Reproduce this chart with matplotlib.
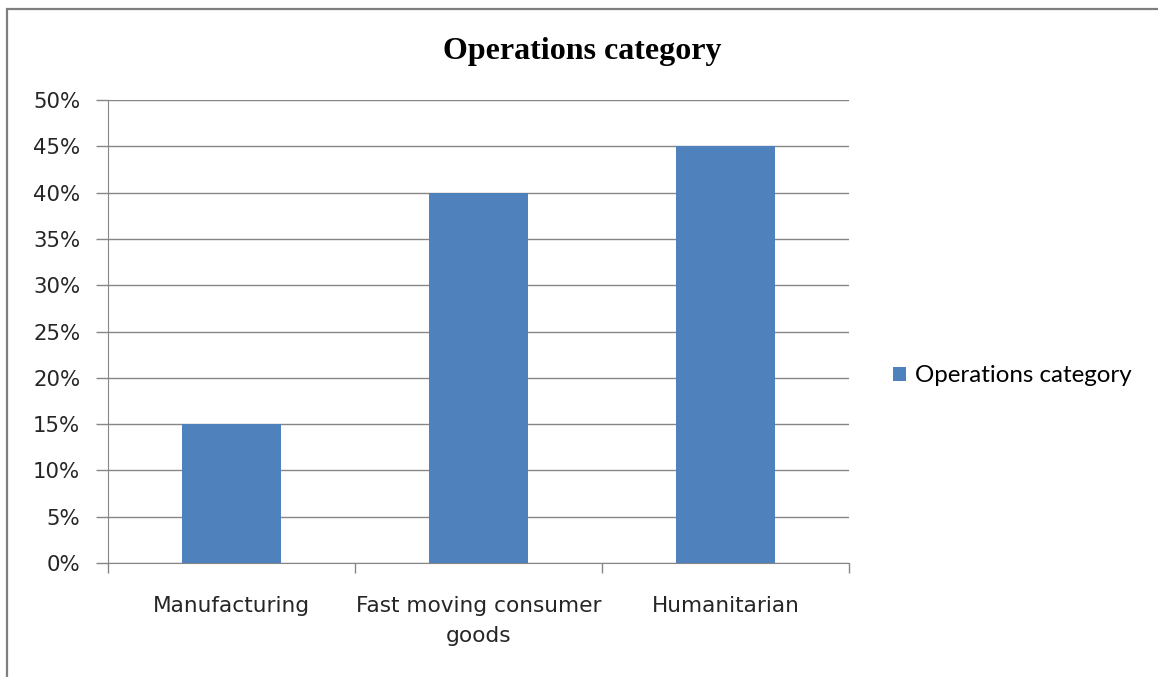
import matplotlib
matplotlib.use("Agg")
import matplotlib.pyplot as plt
from matplotlib.patches import Rectangle
from matplotlib.ticker import FuncFormatter, FixedLocator

categories = ["Manufacturing", "Fast moving consumer\ngoods", "Humanitarian"]
values = [0.15, 0.40, 0.45]
series_name = "Operations category"
title = "Operations category"
yticks = [0, 0.05, 0.10, 0.15, 0.20, 0.25, 0.30, 0.35, 0.40, 0.45, 0.50]

bar_color = "#4F81BD"
grid_color = "#868686"

fig = plt.figure(figsize=(11.58, 6.77), dpi=100)
fig.patch.set_facecolor("white")

# outer chart-area border (left and top visible)
fig.add_artist(Rectangle((7/1158, -0.1), 1.2, 1 - 9/677 + 0.1,
                         transform=fig.transFigure, fill=False,
                         edgecolor="#7F7F7F", linewidth=1.6))

ax = fig.add_axes([108/1158, 1 - 563/677, (849-108)/1158, (563-100)/677])

x = list(range(len(categories)))
ax.bar(x, values, width=0.4, color=bar_color, label=series_name, zorder=3)

ax.set_xlim(-0.5, len(categories) - 0.5)
ax.set_ylim(0, 0.5)
ax.set_yticks(yticks)
ax.yaxis.set_major_formatter(FuncFormatter(lambda v, p: f"{round(v*100)}%"))
ax.yaxis.grid(True, color=grid_color, linewidth=1.0, zorder=0)

ax.set_xticks(x)
ax.set_xticklabels(categories, fontsize=15.6, color="#262626", linespacing=1.6)
ax.xaxis.set_minor_locator(FixedLocator([i - 0.5 for i in range(len(categories) + 1)]))
ax.tick_params(axis="x", which="major", length=0, pad=24)
ax.tick_params(axis="x", which="minor", length=7, width=1, color=grid_color)
ax.tick_params(axis="y", which="major", length=9, width=1, color=grid_color,
               labelsize=15.3, labelcolor="#262626", pad=11)

for s in ["top", "right"]:
    ax.spines[s].set_visible(False)
ax.spines["left"].set_color(grid_color)
ax.spines["bottom"].set_color(grid_color)

fig.text(582/1158, 1 - 52/677, title, ha="center", va="center",
         fontsize=23, fontweight="bold", family="Liberation Serif")

leg = ax.legend(loc="center left", bbox_to_anchor=(1.03, (563-376)/463), frameon=False,
                handlelength=0.55, handleheight=0.55, handletextpad=0.35,
                prop={"family": "Lato", "size": 17.4})

fig.savefig("out.png", dpi=100)
